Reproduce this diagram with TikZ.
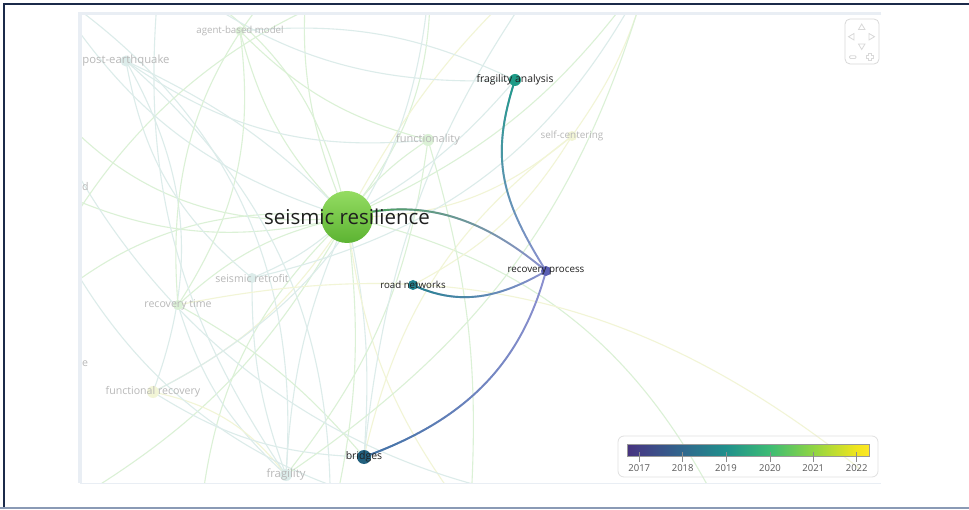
\documentclass[tikz,border=0pt]{standalone}
\usepackage{fontspec}
\setmainfont{Open Sans}
\usetikzlibrary{fadings}
\definecolor{navy}{HTML}{1B2A4A}
\definecolor{frameb}{HTML}{8A9AB5}
\definecolor{panel}{HTML}{E9EEF4}
\definecolor{fgreen}{HTML}{DBF1D6}
\definecolor{fteal}{HTML}{DCECEA}
\definecolor{fyellow}{HTML}{F2F5D6}
\definecolor{srtop}{HTML}{94DC62}
\definecolor{srbot}{HTML}{5CB332}
\definecolor{facol}{HTML}{1F9C88}
\definecolor{rpcol}{HTML}{5B5FB5}
\definecolor{rncol}{HTML}{23828F}
\definecolor{brcol}{HTML}{22607E}
\definecolor{brlink}{HTML}{3D72A3}
\definecolor{lav}{HTML}{8C90D0}
\definecolor{v0}{HTML}{46327E}
\definecolor{v1}{HTML}{433E85}
\definecolor{v2}{HTML}{30678D}
\definecolor{v3}{HTML}{20908C}
\definecolor{v4}{HTML}{3DBC74}
\definecolor{v5}{HTML}{90D543}
\definecolor{v6}{HTML}{F1E51D}
\definecolor{v7}{HTML}{FDE725}
\begin{document}
\begin{tikzpicture}[x=1pt,y=1pt,
  dot/.style={circle,inner sep=0pt,minimum size=#1},
  lbl/.style={inner sep=0pt,text=black!88,font=\fontsize{10.2}{12}\selectfont},
  flbl/.style={inner sep=0pt,text=black!28,font=\fontsize{10.6}{12}\selectfont},
  fl/.style={draw=#1,line width=1.1pt},
  link/.style={line width=1.9pt},
  nav/.style={draw=black!15,line width=.8pt},
  yr/.style={inner sep=0pt,text=black!65,font=\fontsize{9.5}{11}\selectfont}]
\useasboundingbox (0,0) rectangle (969,509);
\fill[white] (0,0) rectangle (969,509);
% outer frame
\draw[navy,line width=2pt] (4.3,0)--(4.3,504.7)--(969,504.7);
\draw[frameb,line width=1.5pt] (0,1)--(969,1);
% panel
\draw[panel,line width=3.5pt] (881,495.5)--(80,495.5)--(80,26);
\draw[panel,line width=1pt] (80,26)--(881,26);

% positions
\coordinate (sr) at (347,292);
\coordinate (fa) at (515,429);
\coordinate (rp) at (546,238);
\coordinate (rn) at (413,224);
\coordinate (br) at (364,52);
\foreach \n/\x/\y in {ab/240/478, pe/126/448, fu/428/369, sc/572/373, sre/252/231,
  rt/178/204, fr/153/117, fg/286/34}
  \coordinate (\n) at (\x,\y);
\foreach \n/\x/\y in {o1/30/330, o2/20/180, o3/60/0, o4/200/-10, o5/330/-20,
  o6/470/-10, o7/720/0, o8/430/540, o9/310/560, o10/160/540, o11/50/520,
  o12/650/540, o13/30/430, o14/860/40, o15/560/560}
  \coordinate (\n) at (\x,\y);

% faint links
\begin{scope}
\clip (82,27) rectangle (881,493.5);
\foreach \t/\b/\c in {ab/15/fgreen, pe/-10/fteal, fu/10/fgreen, sc/-20/fyellow,
  sre/10/fteal, rt/-15/fgreen, fr/15/fyellow, fg/-10/fteal, br/8/fteal,
  o1/20/fgreen, o2/-25/fgreen, o3/15/fgreen, o4/-20/fgreen, o5/10/fgreen,
  o6/-15/fyellow, o7/25/fgreen, o8/-20/fgreen, o9/15/fgreen, o10/-25/fgreen,
  o11/20/fteal, o12/-15/fgreen, o13/30/fgreen, o15/10/fyellow, fa/-10/fteal}
  \draw[fl=\c] (sr) to[bend left=\b] (\t);
\foreach \a/\t/\b/\c in {pe/fr/25/fteal, pe/sre/-20/fteal, ab/rt/20/fgreen,
  rt/fg/-15/fteal, fr/fg/20/fyellow, sre/fg/-10/fteal, pe/fu/-20/fteal,
  fu/fg/15/fgreen, sc/br/-20/fyellow, sc/rn/15/fyellow, fr/br/-15/fteal,
  rt/br/10/fgreen, o11/fg/30/fteal, o13/o7/-35/fteal, o2/o12/40/fgreen,
  ab/fu/-15/fgreen, o10/fg/-20/fteal, pe/o5/25/fteal, fu/o6/10/fgreen,
  sc/o12/-10/fyellow, rt/o14/25/fyellow, fa/o10/20/fteal, fa/ab/-15/fteal,
  o1/o6/-30/fteal, fr/o8/-30/fteal, rt/o9/25/fgreen, sre/o12/-25/fteal,
  fg/o12/-20/fgreen, br/o15/15/fteal}
  \draw[fl=\c] (\a) to[bend left=\b] (\t);
% faint keywords
\node[dot=9pt,fill=fgreen] (abd) at (ab) {};
\node[dot=11pt,fill=fteal] (ped) at (pe) {};
\node[dot=12pt,fill=fgreen] (fud) at (fu) {};
\node[dot=10pt,fill=fyellow] (scd) at (sc) {};
\node[dot=10pt,fill=fteal] (sred) at (sre) {};
\node[dot=10pt,fill=fgreen] (rtd) at (rt) {};
\node[dot=12pt,fill=fyellow] (frd) at (fr) {};
\node[dot=12pt,fill=fteal] (fgd) at (fg) {};
\node[flbl,font=\fontsize{9.7}{12}\selectfont] (abl) at (ab) {agent-based model};
\node[flbl,font=\fontsize{11.3}{12}\selectfont] (pel) at (pe) {post-earthquake};
\node[flbl,font=\fontsize{11}{12}\selectfont] (ful) at (fu) {functionality};
\node[flbl,font=\fontsize{9.9}{12}\selectfont] (scl) at (sc) {self-centering};
\node[flbl] (srel) at (sre) {seismic retrofit};
\node[flbl] (rtl) at (rt) {recovery time};
\node[flbl] (frl) at (fr) {functional recovery};
\node[flbl,font=\fontsize{11.3}{12}\selectfont] (fgl) at (fg) {fragility};
\node[flbl,anchor=west] (dl) at (82,322) {d};
\node[flbl,anchor=west] (el) at (82,145) {e};
\end{scope}

% links of recovery process
\draw[link,lav] (sr) to[out=15,in=140] (rp);
\draw[link,srbot!70!teal,path fading=east] (sr) to[out=15,in=140] (rp);
\draw[link,lav] (fa) to[out=-108,in=122,looseness=1.1] (rp);
\draw[link,facol,path fading=south] (fa) to[out=-108,in=122,looseness=1.1] (rp);
\draw[link,lav] (rn) to[out=-25,in=-150] (rp);
\draw[link,rncol,path fading=east] (rn) to[out=-25,in=-150] (rp);
\draw[link,lav] (br) to[out=20,in=-105] (rp);
\draw[link,brlink,path fading=east] (br) to[out=20,in=-105] (rp);

% keywords
\node[dot=52pt,top color=srtop,bottom color=srbot] (srd) at (sr) {};
\node[dot=12pt,fill=facol] (fad) at (fa) {};
\node[dot=10pt,fill=rpcol] (rpd) at (rp) {};
\node[dot=10pt,fill=rncol] (rnd) at (rn) {};
\node[dot=14pt,fill=brcol] (brd) at (br) {};
\node[lbl,font=\fontsize{20.5}{24}\selectfont] (srl) at (sr) {seismic resilience};
\node[lbl,font=\fontsize{10.4}{12}\selectfont] (fal) at (fa) {fragility analysis};
\node[lbl,font=\fontsize{9.8}{12}\selectfont] (rpl) at (rp) {recovery process};
\node[lbl,font=\fontsize{9.7}{12}\selectfont] (rnl) at (rn) {road networks};
\node[lbl,font=\fontsize{10.5}{12}\selectfont] (brl) at (br) {bridges};

% navigation
\draw[nav,rounded corners=5pt] (845,445) rectangle (879,490);
\draw[nav] (858.5,479.5)--(865,479.5)--(861.7,485)--cycle;
\draw[nav] (858.5,465)--(865,465)--(861.7,459.5)--cycle;
\draw[nav] (854,469)--(854,475.5)--(848.5,472.3)--cycle;
\draw[nav] (869,469)--(869,475.5)--(874.5,472.3)--cycle;
\draw[nav,rounded corners=1pt] (849.5,450.5) rectangle (856,453.3);
\draw[nav] (868.8,448.5)--(871.2,448.5)--(871.2,450.7)--(873.4,450.7)--(873.4,453.1)
  --(871.2,453.1)--(871.2,455.3)--(868.8,455.3)--(868.8,453.1)--(866.6,453.1)
  --(866.6,450.7)--(868.8,450.7)--cycle;

% colour bar
\draw[black!12,line width=.8pt,rounded corners=6pt] (618,32) rectangle (878,73);
\foreach \xa/\xb/\ca/\cb in {627/639.3/v0/v1, 639.3/682.7/v1/v2, 682.7/726/v2/v3,
  726/770/v3/v4, 770/813.3/v4/v5, 813.3/856.7/v5/v6, 856.7/869/v6/v7}
  \shade[left color=\ca,right color=\cb] (\xa,53) rectangle (\xb,65);
\draw[black!40,line width=.4pt] (627,53) rectangle (869,65);
\foreach \x/\y in {639.3/2017, 682.7/2018, 726/2019, 770/2020, 813.3/2021, 856.7/2022} {
  \draw[black!45,line width=.6pt] (\x,56.7)--(\x,47.3);
  \node[yr] at (\x,41) {\y};
}
\end{tikzpicture}
\end{document}
